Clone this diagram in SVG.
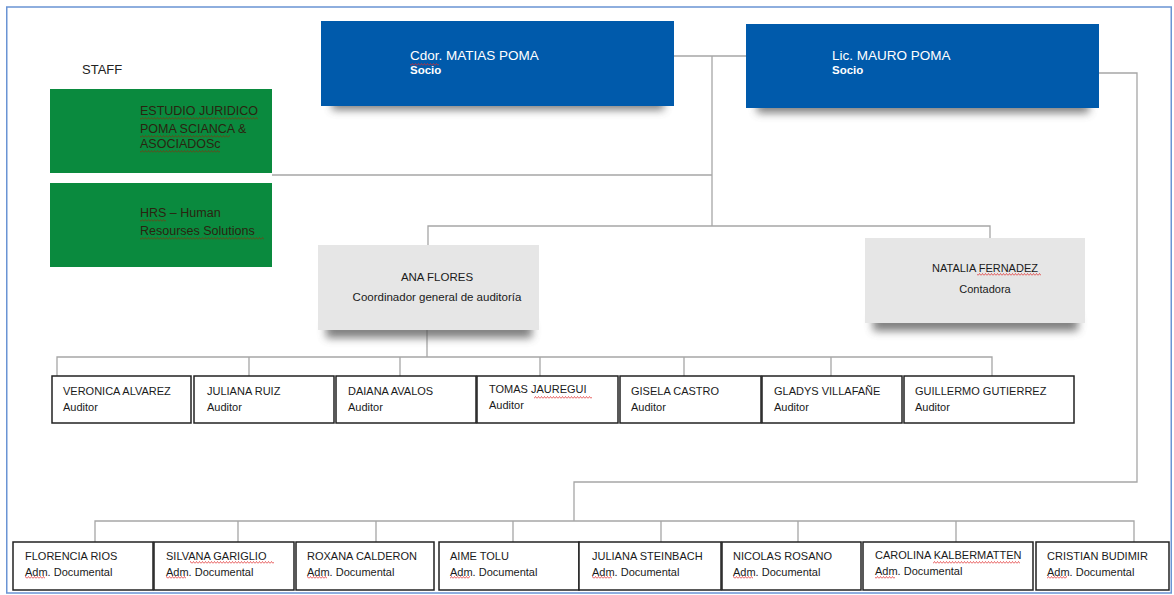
<svg xmlns="http://www.w3.org/2000/svg" width="1174" height="595" viewBox="0 0 1174 595">
<defs>
<filter id="blur" x="-20%" y="-100%" width="140%" height="300%"><feGaussianBlur stdDeviation="4"/></filter>
<pattern id="sq" width="3" height="3" patternUnits="userSpaceOnUse"><path d="M0 2.5 L1.5 0.5 L3 2.5" fill="none" stroke="#e02828" stroke-width="0.7"/></pattern>
<pattern id="sqb" width="3" height="3" patternUnits="userSpaceOnUse"><path d="M0 2.5 L1.5 0.5 L3 2.5" fill="none" stroke="#7a3a10" stroke-width="0.7"/></pattern>
<style>
text{font-family:"Liberation Sans",Arial,sans-serif;}
.nm{font-size:11px;fill:#1a1a1a;}
.wt{font-size:13.5px;fill:#ffffff;}
.ws{font-size:11.5px;font-weight:bold;fill:#ffffff;}
.gt{font-size:12.5px;fill:#2a2410;}
.gy{font-size:11.5px;fill:#1a1a1a;text-anchor:middle;}
.box{fill:#ffffff;stroke:#222222;stroke-width:1.5;}
.blue{fill:#005aab;}
.green{fill:#0a8a3e;}
.gray{fill:#e6e6e6;}
.shd{fill:#555555;opacity:0.75;filter:url(#blur);}
#connectors path{fill:none;stroke:#a6a6a6;stroke-width:1.3;}
</style>
</defs>
<rect x="6.75" y="7" width="1164.5" height="586" fill="#ffffff" stroke="#6a94d4" stroke-width="1.5"/>
<text x="82" y="74" style="font-size:13px;fill:#222">STAFF</text>

<g id="connectors">
<path d="M674 56 H746"/>
<path d="M712 56 V226"/>
<path d="M272 175 H712"/>
<path d="M428 245 V226 H990 V238"/>
<path d="M1098 73 H1137 V482 H574 V521"/>
<path d="M427 330 V357"/>
<path d="M57 376 V357 H992 V376"/>
<path d="M249 357 V376 M400 357 V376 M540 357 V376 M684 357 V376 M831 357 V376"/>
<path d="M95 542 V521 H1134 V542"/>
<path d="M238 521 V542 M376 521 V542 M513 521 V542 M661 521 V542 M798 521 V542 M956 521 V542"/>
</g>

<g id="estudio">
<rect class="green" x="50" y="89" width="222" height="84"/>
<text class="gt" x="140" y="114.5">ESTUDIO JURIDICO</text>
<text class="gt" x="140" y="132.5">POMA SCIANCA &amp;</text>
<text class="gt" x="140" y="148">ASOCIADOSc</text>
<rect x="140" y="117" width="118" height="3" fill="url(#sqb)"/>
<rect x="140" y="135" width="90" height="3" fill="url(#sqb)"/>
<rect x="140" y="150" width="80" height="3" fill="url(#sqb)"/>
</g>
<g id="hrs">
<rect class="green" x="50" y="183" width="222" height="84"/>
<text class="gt" x="140" y="216.5">HRS – Human</text>
<text class="gt" x="140" y="234.5">Resourses Solutions</text>
<rect x="140" y="219" width="26" height="3" fill="url(#sqb)"/>
<rect x="140" y="237" width="124" height="3" fill="url(#sqb)"/>
</g>

<g id="matias">
<rect class="shd" x="332" y="96" width="332" height="14"/>
<rect class="blue" x="321" y="21" width="353" height="85"/>
<text class="wt" x="410" y="60">Cdor.  MATIAS POMA</text>
<text class="ws" x="410" y="73.5">Socio</text>
<rect x="410" y="63" width="29" height="3" fill="url(#sq)"/>
</g>
<g id="mauro">
<rect class="shd" x="757" y="99" width="332" height="14"/>
<rect class="blue" x="746" y="24" width="353" height="84"/>
<text class="wt" x="832" y="60">Lic. MAURO POMA</text>
<text class="ws" x="832" y="73.5">Socio</text>
</g>

<g id="ana">
<rect class="shd" x="326" y="322" width="206" height="16"/>
<rect class="gray" x="318" y="245" width="221" height="85"/>
<text class="gy" x="437" y="281">ANA FLORES</text>
<text class="gy" x="437" y="300.5">Coordinador general de auditoría</text>
</g>
<g id="natalia">
<rect class="shd" x="873" y="315" width="205" height="16"/>
<rect class="gray" x="865" y="238" width="220" height="85"/>
<text class="gy" x="985" y="272" style="font-size:11px">NATALIA FERNADEZ</text>
<text class="gy" x="985" y="293" style="font-size:11px">Contadora</text>
<rect x="977" y="273" width="64" height="3" fill="url(#sq)"/>
</g>

<g id="veronica"><rect class="box" x="52" y="376" width="139" height="47"/><text class="nm" x="63" y="395">VERONICA ALVAREZ</text><text class="nm" x="63" y="411">Auditor</text></g>
<g id="juliana-ruiz"><rect class="box" x="194" y="376" width="140" height="47"/><text class="nm" x="207" y="395">JULIANA RUIZ</text><text class="nm" x="207" y="411">Auditor</text></g>
<g id="daiana"><rect class="box" x="336" y="376" width="140" height="47"/><text class="nm" x="348" y="395">DAIANA AVALOS</text><text class="nm" x="348" y="411">Auditor</text></g>
<g id="tomas"><rect class="box" x="477" y="376" width="141" height="47"/><text class="nm" x="489" y="393">TOMAS JAUREGUI</text><text class="nm" x="489" y="409">Auditor</text><rect x="534" y="396" width="58" height="3" fill="url(#sq)"/></g>
<g id="gisela"><rect class="box" x="620" y="376" width="141" height="47"/><text class="nm" x="631" y="395">GISELA CASTRO</text><text class="nm" x="631" y="411">Auditor</text></g>
<g id="gladys"><rect class="box" x="762" y="376" width="140" height="47"/><text class="nm" x="774" y="395">GLADYS VILLAFAÑE</text><text class="nm" x="774" y="411">Auditor</text></g>
<g id="guillermo"><rect class="box" x="904" y="376" width="170" height="47"/><text class="nm" x="915" y="395">GUILLERMO GUTIERREZ</text><text class="nm" x="915" y="411">Auditor</text></g>

<g id="florencia"><rect class="box" x="13" y="542" width="140" height="48"/><text class="nm" x="25" y="560">FLORENCIA RIOS</text><text class="nm" x="25" y="576">Adm. Documental</text><rect x="25" y="576" width="20" height="3" fill="url(#sq)"/></g>
<g id="silvana"><rect class="box" x="154" y="542" width="140" height="48"/><text class="nm" x="166" y="560">SILVANA GARIGLIO</text><text class="nm" x="166" y="576">Adm. Documental</text><rect x="190" y="561" width="84" height="3" fill="url(#sq)"/><rect x="166" y="576" width="20" height="3" fill="url(#sq)"/></g>
<g id="roxana"><rect class="box" x="296" y="542" width="138" height="48"/><text class="nm" x="307" y="560">ROXANA CALDERON</text><text class="nm" x="307" y="576">Adm. Documental</text><rect x="307" y="576" width="20" height="3" fill="url(#sq)"/></g>
<g id="aime"><rect class="box" x="439" y="542" width="140" height="48"/><text class="nm" x="450" y="560">AIME TOLU</text><text class="nm" x="450" y="576">Adm. Documental</text><rect x="450" y="576" width="20" height="3" fill="url(#sq)"/></g>
<g id="juliana-steinbach"><rect class="box" x="579" y="542" width="142" height="48"/><text class="nm" x="592" y="560">JULIANA STEINBACH</text><text class="nm" x="592" y="576">Adm. Documental</text><rect x="592" y="576" width="20" height="3" fill="url(#sq)"/></g>
<g id="nicolas"><rect class="box" x="722" y="542" width="139" height="48"/><text class="nm" x="733" y="560">NICOLAS ROSANO</text><text class="nm" x="733" y="576">Adm. Documental</text><rect x="733" y="576" width="20" height="3" fill="url(#sq)"/></g>
<g id="carolina"><rect class="box" x="863" y="542" width="170" height="48"/><text class="nm" x="875" y="559">CAROLINA KALBERMATTEN</text><text class="nm" x="875" y="575">Adm. Documental</text><rect x="933" y="561" width="87" height="3" fill="url(#sq)"/><rect x="875" y="576" width="20" height="3" fill="url(#sq)"/></g>
<g id="cristian"><rect class="box" x="1036" y="542" width="133" height="48"/><text class="nm" x="1047" y="560">CRISTIAN BUDIMIR</text><text class="nm" x="1047" y="576">Adm. Documental</text><rect x="1047" y="576" width="20" height="3" fill="url(#sq)"/></g>
</svg>
